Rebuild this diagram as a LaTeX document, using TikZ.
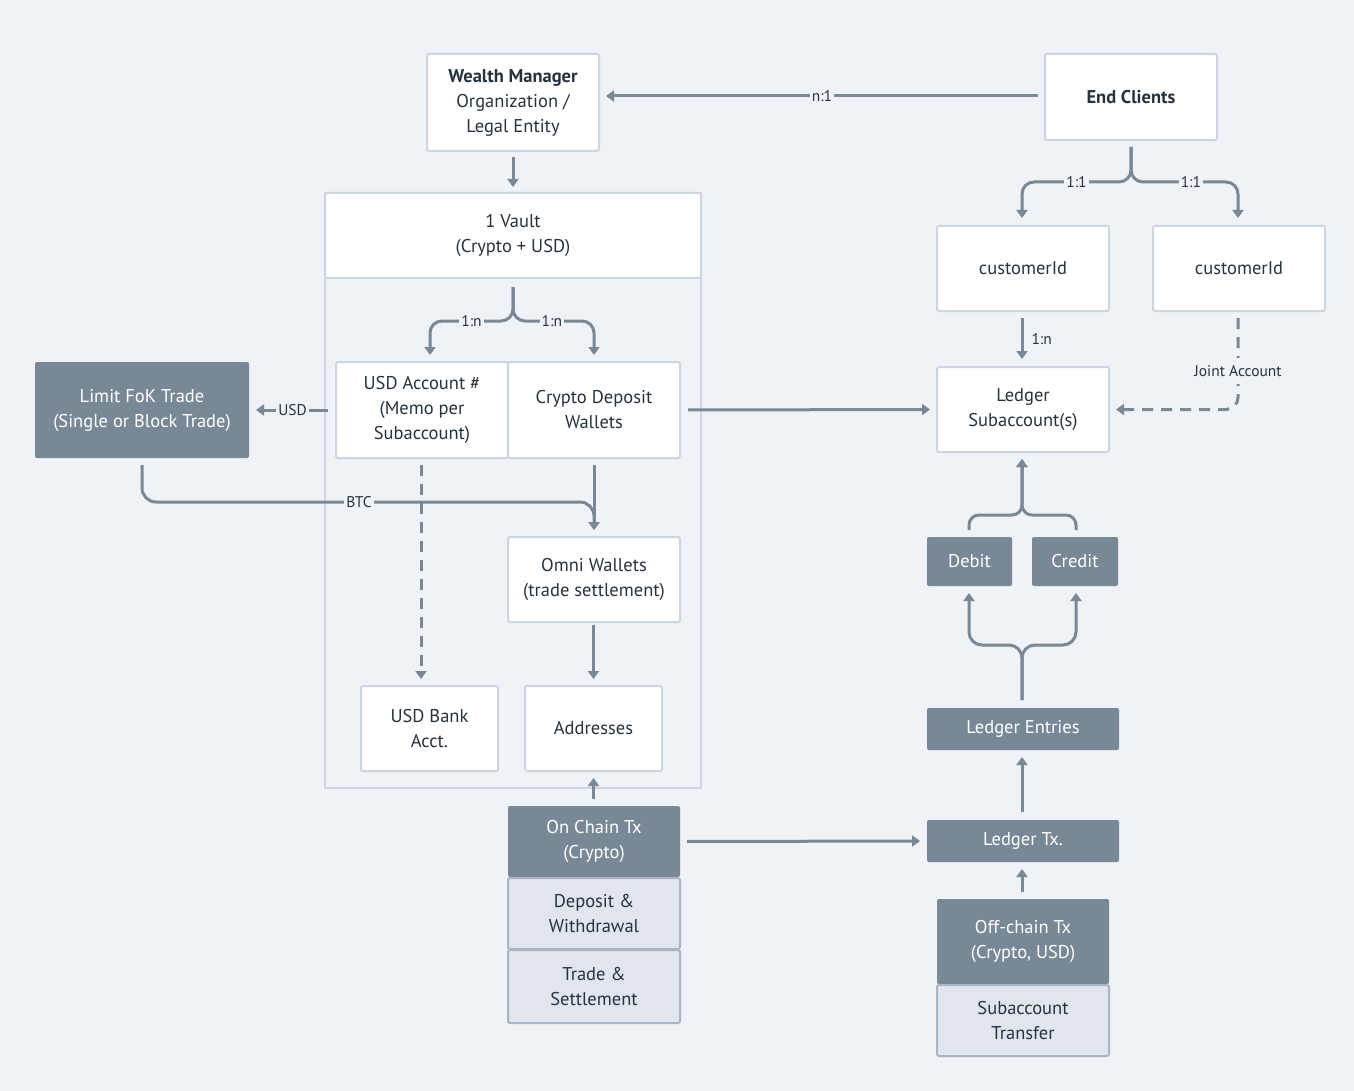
\documentclass[tikz,border=0pt]{standalone}
\usepackage{fontspec}
\setmainfont{PT Sans}
\usetikzlibrary{arrows.meta}
\definecolor{bgcol}{HTML}{EFF2F6}
\definecolor{linecol}{HTML}{7A8896}
\definecolor{darkcol}{HTML}{798897}
\definecolor{lightcol}{HTML}{E1E6EE}
\definecolor{lightedge}{HTML}{AAB5C3}
\definecolor{edgecol}{HTML}{CDD6E0}
\definecolor{txtcol}{HTML}{26333F}
\begin{document}
\begin{tikzpicture}[x=1pt,y=-1pt,font=\fontsize{18.5}{25}\selectfont,text=txtcol,
  box/.style={draw=edgecol,line width=2pt,fill=white,rounded corners=2pt,align=center,inner sep=0pt,outer sep=0pt},
  darkbox/.style={fill=darkcol,text=white,rounded corners=2pt,align=center,inner sep=0pt,outer sep=0pt},
  lightbox/.style={draw=lightedge,line width=2pt,fill=lightcol,rounded corners=2pt,align=center,inner sep=0pt,outer sep=0pt},
  conn/.style={draw=linecol,line width=3pt,-{Triangle[width=11pt,length=8pt]}},
  dashline/.style={dash pattern=on 11pt off 8pt},
  lbl/.style={fill=bgcol,sharp corners,solid,font=\fontsize{15.5}{16}\selectfont,inner sep=2pt,text=txtcol}]
  \fill[bgcol] (0,0) rectangle (1354,1091);
  \useasboundingbox (0,0) rectangle (1354,1091);
  \node[draw=edgecol,line width=2pt,minimum width=376pt,minimum height=595pt,inner sep=0pt,outer sep=0pt] (vault) at (513,490.5) {};
  \node[box,minimum width=172pt,minimum height=97pt] (wm) at (513,102.5) {\textbf{Wealth Manager}\\Organization /\\Legal Entity};
  \node[box,minimum width=172pt,minimum height=86pt] (clients) at (1131,97) {\textbf{End Clients}};
  \node[box,minimum width=376pt,minimum height=85pt] (vaulthead) at (513,235.5) {1 Vault\\(Crypto + USD)};
  \node[box,minimum width=172pt,minimum height=96pt] (usdacct) at (422,410) {USD Account \#\\(Memo per\\Subaccount)};
  \node[box,minimum width=172pt,minimum height=96pt] (cryptodep) at (594,410) {Crypto Deposit\\Wallets};
  \node[darkbox,minimum width=214pt,minimum height=96pt] (limit) at (142,410) {Limit FoK Trade\\(Single or Block Trade)};
  \node[box,minimum width=172pt,minimum height=85pt] (omni) at (594,579.5) {Omni Wallets\\(trade settlement)};
  \node[box,minimum width=137pt,minimum height=85pt] (bank) at (429.5,728.5) {USD Bank\\Acct.};
  \node[box,minimum width=137pt,minimum height=85pt] (addr) at (593.5,728.5) {Addresses};
  \node[darkbox,minimum width=172pt,minimum height=71pt] (onchain) at (594,841.5) {On Chain Tx\\(Crypto)};
  \node[lightbox,minimum width=172pt,minimum height=71pt] (depwd) at (594,913.5) {Deposit \&\\Withdrawal};
  \node[lightbox,minimum width=172pt,minimum height=73pt] (trade) at (594,986.5) {Trade \&\\Settlement};
  \node[box,minimum width=172pt,minimum height=85pt] (cust1) at (1023,268.5) {customerId};
  \node[box,minimum width=172pt,minimum height=85pt] (cust2) at (1239,268.5) {customerId};
  \node[box,minimum width=172pt,minimum height=85pt] (ledgersub) at (1023,409.5) {Ledger\\Subaccount(s)};
  \node[darkbox,minimum width=85pt,minimum height=49pt] (debit) at (969.5,561.5) {Debit};
  \node[darkbox,minimum width=86pt,minimum height=49pt] (credit) at (1075,561.5) {Credit};
  \node[darkbox,minimum width=192pt,minimum height=42pt] (entries) at (1023,729) {Ledger Entries};
  \node[darkbox,minimum width=192pt,minimum height=42pt] (ledgertx) at (1023,841) {Ledger Tx.};
  \node[darkbox,minimum width=172pt,minimum height=85pt] (offchain) at (1023,941.5) {Off-chain Tx\\(Crypto, USD)};
  \node[lightbox,minimum width=172pt,minimum height=71pt] (transfer) at (1023,1020.5) {Subaccount\\Transfer};

  \draw[conn,shorten <=7pt,shorten >=7pt] ([yshift=1pt]clients.west) -- node[lbl] {n:1} ([yshift=1pt]clients.west -| wm.east);
  \draw[conn,shorten <=6pt,shorten >=6pt] (wm.south) -- (vaulthead.north);
  \draw[conn,rounded corners=12pt] (vaulthead.south) ++(0,9) -- ++(0,34) -| node[lbl,pos=0.25] {1:n} ([xshift=8pt,yshift=7pt]usdacct.north);
  \draw[conn,rounded corners=12pt] (vaulthead.south) ++(0,9) -- ++(0,34) -| node[lbl,pos=0.24] {1:n} ([yshift=7pt]cryptodep.north);
  \draw[conn,rounded corners=12pt] (clients.south) ++(0,7) -- ++(0,35) -| node[lbl,pos=0.25] {1:1} ([xshift=-1pt,yshift=8pt]cust1.north);
  \draw[conn,rounded corners=12pt] (clients.south) ++(0,7) -- ++(0,35) -| node[lbl,pos=0.28] {1:1} ([xshift=-1pt,yshift=8pt]cust2.north);
  \draw[conn,shorten <=7pt,shorten >=8pt] ([xshift=-1pt]cust1.south) -- node[lbl,right,fill=none,inner sep=8pt] {1:n} ([xshift=-1pt]ledgersub.north);
  \draw[conn,dashline,rounded corners=12pt] ([xshift=-1pt,yshift=-7pt]cust2.south) |- ([xshift=7pt]ledgersub.east);
  \path ([xshift=-1pt,yshift=-7pt]cust2.south) |- node[lbl,pos=0.29,inner ysep=7pt] {Joint Account} ([xshift=7pt]ledgersub.east);
  \draw[conn,shorten <=8pt,shorten >=7pt] (cryptodep.east) -- (ledgersub.west);
  \draw[conn,shorten <=8pt,shorten >=7pt] (usdacct.west) -- node[lbl] {USD} (limit.east);
  \draw[conn,rounded corners=14pt] ([yshift=-7pt]limit.south) -- ++(0,37) -| node[lbl,pos=0.24] {BTC} ([yshift=7pt]omni.north);
  \draw[conn,shorten <=7pt,shorten >=7pt] (cryptodep.south) -- (omni.north);
  \draw[conn,dashline] ([xshift=-1pt,yshift=-7pt]usdacct.south) -- ([xshift=-1pt,yshift=7pt]usdacct.south |- bank.north);
  \draw[conn,shorten <=3pt,shorten >=7pt] ([xshift=-0.5pt]omni.south) -- (addr.north);
  \draw[conn,shorten <=7pt,shorten >=7pt] ([xshift=-0.5pt]onchain.north) -- (addr.south);
  \draw[conn,shorten <=7pt,shorten >=7pt] (onchain.east) -- (ledgertx.west);
  \draw[conn,shorten <=8pt,shorten >=7pt] ([xshift=-1pt]ledgertx.north) -- ([xshift=-1pt]entries.south);
  \draw[conn,shorten <=7pt,shorten >=7pt] ([xshift=-1pt]offchain.north) -- ([xshift=-1pt]ledgertx.south);
  \draw[conn,rounded corners=13pt] ([xshift=-1pt,yshift=8pt]entries.north) -- ++(0,-55) -| ([xshift=-0.5pt,yshift=-7pt]debit.south);
  \draw[conn,rounded corners=13pt] ([xshift=-1pt,yshift=8pt]entries.north) -- ++(0,-55) -| ([xshift=1pt,yshift=-7pt]credit.south);
  \draw[conn,rounded corners=10pt] ([xshift=-0.5pt,yshift=7pt]debit.north) -- ++(0,-15) -| ([xshift=-1pt,yshift=-7pt]ledgersub.south);
  \draw[conn,rounded corners=10pt] ([xshift=1pt,yshift=7pt]credit.north) -- ++(0,-15) -| ([xshift=-1pt,yshift=-7pt]ledgersub.south);
\end{tikzpicture}
\end{document}
